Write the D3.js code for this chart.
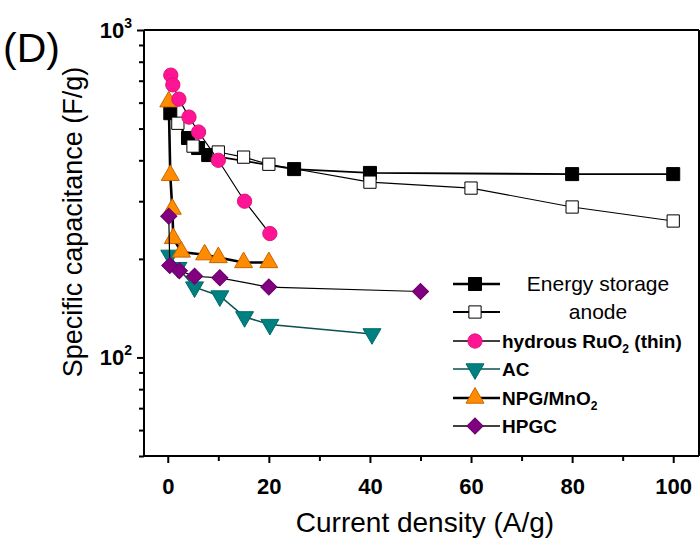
<!DOCTYPE html>
<html><head><meta charset="utf-8">
<script src="https://cdn.jsdelivr.net/npm/d3@7"></script>
<style>body{margin:0;background:#fff} svg{display:block} text{font-family:"Liberation Sans",Arial,sans-serif;fill:#000}</style>
</head><body><svg id="c" width="700" height="540"></svg>
<script>
// ---- data ----
const energyX = [0.5, 4, 6, 8, 25, 40, 80, 100];
const energyY = [557, 468, 436, 415, 376, 366, 363, 363];
const anodeX = [2, 5, 10, 15, 20, 40, 60, 80, 100];
const anodeY = [519, 442, 424, 409, 389, 343, 329, 288, 261];
const ruo2X = [0.6, 1.0, 2.2, 4.2, 6.1, 10, 15.2, 20.2];
const ruo2Y = [728, 680, 615, 542, 488, 400, 300, 239];
const acX = [0.4, 2, 5.3, 10.3, 15.2, 20.2, 40.4];
const acY = [205, 188, 164, 154, 133, 126, 118];
const npgX = [0.2, 0.5, 0.9, 1.1, 2.7, 7.3, 10, 15, 20];
const npgY = [604, 360, 284, 231, 210, 206, 202, 195, 195];
const hpgcX = [0.2, 0.4, 2.3, 5.3, 10.3, 20, 50];
const hpgcY = [270, 191, 184, 177, 175, 164, 159];
const xTicks = [0, 20, 40, 60, 80, 100];
const xMinor = [10, 30, 50, 70, 90];
const yTicks = [100, 1000];
const yTickExp = ["2", "3"];
const yMinor = [50, 60, 70, 80, 90, 200, 300, 400, 500, 600, 700, 800, 900];
const seriesNames = ["Energy storage", "anode", "hydrous RuO", "AC", "NPG/MnO", "HPGC"];

// ---- layout ----
const svg = d3.select("#c");
const L = 144, R = 699, T = 30, B = 456;
const x = d3.scaleLinear().domain([-4.7, 105.1]).range([L, R]);
const y = d3.scaleLog().domain([50, 1000]).range([B, T]);

// frame
svg.append("line").attr("x1", L).attr("x2", R).attr("y1", T).attr("y2", T).attr("stroke", "#000").attr("stroke-width", 2);
svg.append("line").attr("x1", R).attr("x2", R).attr("y1", T).attr("y2", B).attr("stroke", "#000").attr("stroke-width", 2);

// x axis
const gx = svg.append("g").attr("transform", `translate(0,${B})`);
gx.call(d3.axisBottom(x).tickValues(xTicks).tickSize(7).tickSizeOuter(0).tickPadding(15).tickFormat(d3.format("d")));
gx.append("g").call(d3.axisBottom(x).tickValues(xMinor).tickSize(5).tickSizeOuter(0).tickFormat(""));
gx.selectAll(".domain").attr("stroke-width", 2).attr("d", `M${L},0H${R}`);
gx.selectAll(".tick line").attr("stroke-width", 2);
gx.selectAll(".tick text").attr("font-size", 22).attr("font-weight", "bold");

// y axis
const gy = svg.append("g").attr("transform", `translate(${L},0)`);
gy.call(d3.axisLeft(y).tickValues(yTicks).tickSize(7).tickSizeOuter(0).tickFormat(""));
gy.append("g").call(d3.axisLeft(y).tickValues(yMinor).tickSize(5).tickSizeOuter(0).tickFormat(""));
gy.selectAll(".domain").attr("stroke-width", 2).attr("d", `M0,${T}V${B}`);
gy.selectAll(".tick line").attr("stroke-width", 2);
yTicks.forEach((v, i) => {
  const t = svg.append("text").attr("x", L - 12).attr("y", y(v) + 8).attr("text-anchor", "end")
    .attr("font-size", 22).attr("font-weight", "bold");
  t.append("tspan").text("10");
  t.append("tspan").attr("dy", -10).attr("font-size", 14).text(yTickExp[i]);
});

// titles
svg.append("text").attr("x", 425).attr("y", 532).attr("text-anchor", "middle").attr("font-size", 28).text("Current density (A/g)");
svg.append("text").attr("transform", `translate(82,222) rotate(-90)`).attr("text-anchor", "middle")
  .attr("font-size", 27).text("Specific capacitance (F/g)");
svg.append("text").attr("x", 3).attr("y", 62).attr("font-size", 41).text("(D)");

// ---- series ----
const series = [
  {xs: energyX, ys: energyY, line: "#000", lw: 1.8, legLw: 2.6, type: d3.symbolSquare, size: 169, fill: "#000", stroke: "#000", rot: 0},
  {xs: anodeX, ys: anodeY, line: "#000", lw: 1.2, legLw: 1.8, type: d3.symbolSquare, size: 150, fill: "#fff", stroke: "#000", rot: 0},
  {xs: acX, ys: acY, line: "#0b4f4f", lw: 1.5, legLw: 1.5, type: d3.symbolTriangle, size: 140, fill: "#008080", stroke: "#006a6a", rot: 180},
  {xs: npgX, ys: npgY, line: "#000", lw: 2.6, legLw: 2.6, type: d3.symbolTriangle, size: 140, fill: "#ff8c00", stroke: "#c86400", rot: 0},
  {xs: hpgcX, ys: hpgcY, line: "#000", lw: 1.2, legLw: 1.3, type: d3.symbolSquare, size: 130, fill: "#800080", stroke: "#6a006a", rot: 45},
  {xs: ruo2X, ys: ruo2Y, line: "#000", lw: 1.2, legLw: 1.3, type: d3.symbolCircle, size: 160, fill: "#ff1493", stroke: "#e0107f", rot: 0}
];
const lineGen = d3.line().x(d => x(d[0])).y(d => y(d[1]));
series.forEach(s => {
  const pts = s.xs.map((v, i) => [v, s.ys[i]]);
  svg.append("path").attr("d", lineGen(pts)).attr("fill", "none").attr("stroke", s.line).attr("stroke-width", s.lw);
  svg.append("g").selectAll("path").data(pts).join("path")
    .attr("d", d3.symbol().type(s.type).size(s.size))
    .attr("transform", d => `translate(${x(d[0])},${y(d[1])}) rotate(${s.rot})`)
    .attr("fill", s.fill).attr("stroke", s.stroke).attr("stroke-width", 1);
});

// ---- legend ----
const legSeries = [series[0], series[1], series[5], series[2], series[3], series[4]];
const legY = [284, 312, 341, 369, 398, 426];
const lg = svg.append("g");
legSeries.forEach((s, i) => {
  const yy = legY[i];
  lg.append("line").attr("x1", 453).attr("x2", 500).attr("y1", yy).attr("y2", yy).attr("stroke", s.line).attr("stroke-width", s.legLw);
  lg.append("path").attr("d", d3.symbol().type(s.type).size(s.size)())
    .attr("transform", `translate(475,${yy}) rotate(${s.rot})`)
    .attr("fill", s.fill).attr("stroke", s.stroke).attr("stroke-width", 1);
});
lg.append("text").attr("x", 598).attr("y", legY[0] + 7).attr("text-anchor", "middle").attr("font-size", 21).text(seriesNames[0]);
lg.append("text").attr("x", 598).attr("y", legY[1] + 7).attr("text-anchor", "middle").attr("font-size", 21).text(seriesNames[1]);
const lt = (i, name, sub, rest) => {
  const t = lg.append("text").attr("x", 502).attr("y", legY[i] + 7).attr("font-size", 19).attr("font-weight", "bold");
  t.append("tspan").text(name);
  if (sub) {
    t.append("tspan").attr("dy", 5).attr("font-size", 12).text(sub);
    if (rest) t.append("tspan").attr("dy", -5).text(rest);
  }
};
lt(2, seriesNames[2], "2", " (thin)");
lt(3, seriesNames[3]);
lt(4, seriesNames[4], "2");
lt(5, seriesNames[5]);
</script></body></html>
